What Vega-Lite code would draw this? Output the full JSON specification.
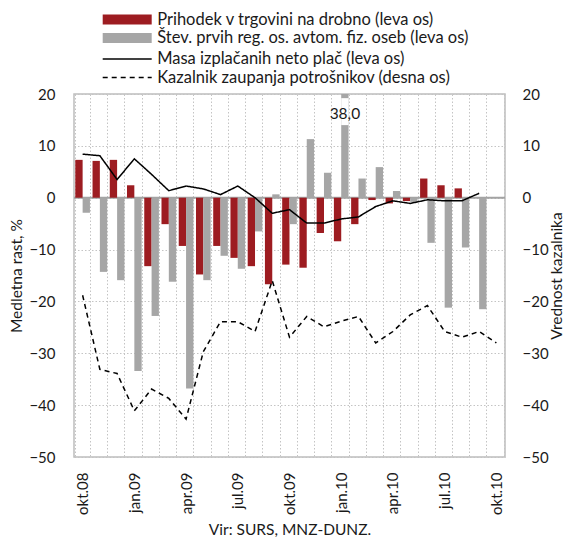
{
  "$schema": "https://vega.github.io/schema/vega-lite/v6.json",
  "width": 431,
  "height": 363,
  "autosize": {"type": "none"},
  "padding": {"left": 74, "top": 94, "right": 62, "bottom": 82},
  "config": {
    "font": "Lato",
    "view": {"stroke": "#bdbdbd", "strokeWidth": 1.5},
    "axis": {
      "labelFont": "Lato", "labelFontSize": 15, "labelColor": "#1a1a1a",
      "titleFont": "Lato", "titleFontSize": 15.5, "titleFontWeight": "normal", "titleColor": "#1a1a1a",
      "domain": false, "ticks": false,
      "gridColor": "#c4c4c4", "gridDash": [1.5, 2], "gridWidth": 1
    },
    "axisX": {
      "labelAngle": -90,
      "labelExpr": "test(/^(okt|jan|apr|jul)\\./, datum.label) ? datum.label : ''",
      "tickBand": "extent",
      "grid": true,
      "labelPadding": 15,
      "titlePadding": 8
    },
    "legend": {"labelFont": "Lato", "labelFontSize": 16.5, "labelColor": "#1a1a1a", "padding": 0, "labelLimit": 400}
  },
  "datasets": {
    "bars": [
      {"m": "okt.08", "s": "Prihodek v trgovini na drobno (leva os)", "v": 7.3},
      {"m": "nov.08", "s": "Prihodek v trgovini na drobno (leva os)", "v": 7.1},
      {"m": "dec.08", "s": "Prihodek v trgovini na drobno (leva os)", "v": 7.3},
      {"m": "jan.09", "s": "Prihodek v trgovini na drobno (leva os)", "v": 2.4},
      {"m": "feb.09", "s": "Prihodek v trgovini na drobno (leva os)", "v": -13.2},
      {"m": "mar.09", "s": "Prihodek v trgovini na drobno (leva os)", "v": -5.1},
      {"m": "apr.09", "s": "Prihodek v trgovini na drobno (leva os)", "v": -9.3},
      {"m": "maj.09", "s": "Prihodek v trgovini na drobno (leva os)", "v": -14.8},
      {"m": "jun.09", "s": "Prihodek v trgovini na drobno (leva os)", "v": -9.3},
      {"m": "jul.09", "s": "Prihodek v trgovini na drobno (leva os)", "v": -11.6},
      {"m": "avg.09", "s": "Prihodek v trgovini na drobno (leva os)", "v": -13.2},
      {"m": "sep.09", "s": "Prihodek v trgovini na drobno (leva os)", "v": -16.7},
      {"m": "okt.09", "s": "Prihodek v trgovini na drobno (leva os)", "v": -12.9},
      {"m": "nov.09", "s": "Prihodek v trgovini na drobno (leva os)", "v": -13.5},
      {"m": "dec.09", "s": "Prihodek v trgovini na drobno (leva os)", "v": -6.8},
      {"m": "jan.10", "s": "Prihodek v trgovini na drobno (leva os)", "v": -8.4},
      {"m": "feb.10", "s": "Prihodek v trgovini na drobno (leva os)", "v": -5.1},
      {"m": "mar.10", "s": "Prihodek v trgovini na drobno (leva os)", "v": -0.45},
      {"m": "apr.10", "s": "Prihodek v trgovini na drobno (leva os)", "v": -1.1},
      {"m": "maj.10", "s": "Prihodek v trgovini na drobno (leva os)", "v": -0.65},
      {"m": "jun.10", "s": "Prihodek v trgovini na drobno (leva os)", "v": 3.7},
      {"m": "jul.10", "s": "Prihodek v trgovini na drobno (leva os)", "v": 2.4},
      {"m": "avg.10", "s": "Prihodek v trgovini na drobno (leva os)", "v": 1.8},
      {"m": "okt.08", "s": "Štev. prvih reg. os. avtom. fiz. oseb (leva os)", "v": -2.9},
      {"m": "nov.08", "s": "Štev. prvih reg. os. avtom. fiz. oseb (leva os)", "v": -14.3},
      {"m": "dec.08", "s": "Štev. prvih reg. os. avtom. fiz. oseb (leva os)", "v": -15.9},
      {"m": "jan.09", "s": "Štev. prvih reg. os. avtom. fiz. oseb (leva os)", "v": -33.4},
      {"m": "feb.09", "s": "Štev. prvih reg. os. avtom. fiz. oseb (leva os)", "v": -22.8},
      {"m": "mar.09", "s": "Štev. prvih reg. os. avtom. fiz. oseb (leva os)", "v": -16.2},
      {"m": "apr.09", "s": "Štev. prvih reg. os. avtom. fiz. oseb (leva os)", "v": -36.8},
      {"m": "maj.09", "s": "Štev. prvih reg. os. avtom. fiz. oseb (leva os)", "v": -15.9},
      {"m": "jun.09", "s": "Štev. prvih reg. os. avtom. fiz. oseb (leva os)", "v": -11.2},
      {"m": "jul.09", "s": "Štev. prvih reg. os. avtom. fiz. oseb (leva os)", "v": -13.7},
      {"m": "avg.09", "s": "Štev. prvih reg. os. avtom. fiz. oseb (leva os)", "v": -6.5},
      {"m": "sep.09", "s": "Štev. prvih reg. os. avtom. fiz. oseb (leva os)", "v": 0.65},
      {"m": "okt.09", "s": "Štev. prvih reg. os. avtom. fiz. oseb (leva os)", "v": -5.1},
      {"m": "nov.09", "s": "Štev. prvih reg. os. avtom. fiz. oseb (leva os)", "v": 11.3},
      {"m": "dec.09", "s": "Štev. prvih reg. os. avtom. fiz. oseb (leva os)", "v": 4.8},
      {"m": "jan.10", "s": "Štev. prvih reg. os. avtom. fiz. oseb (leva os)", "v": 38.0},
      {"m": "feb.10", "s": "Štev. prvih reg. os. avtom. fiz. oseb (leva os)", "v": 3.7},
      {"m": "mar.10", "s": "Štev. prvih reg. os. avtom. fiz. oseb (leva os)", "v": 5.9},
      {"m": "apr.10", "s": "Štev. prvih reg. os. avtom. fiz. oseb (leva os)", "v": 1.3},
      {"m": "maj.10", "s": "Štev. prvih reg. os. avtom. fiz. oseb (leva os)", "v": -0.8},
      {"m": "jun.10", "s": "Štev. prvih reg. os. avtom. fiz. oseb (leva os)", "v": -8.7},
      {"m": "jul.10", "s": "Štev. prvih reg. os. avtom. fiz. oseb (leva os)", "v": -21.2},
      {"m": "avg.10", "s": "Štev. prvih reg. os. avtom. fiz. oseb (leva os)", "v": -9.6},
      {"m": "sep.10", "s": "Štev. prvih reg. os. avtom. fiz. oseb (leva os)", "v": -21.5}
    ],
    "masa": [
      {"m": "okt.08", "s": "Masa izplačanih neto plač (leva os)", "v": 8.4},
      {"m": "nov.08", "s": "Masa izplačanih neto plač (leva os)", "v": 8.1},
      {"m": "dec.08", "s": "Masa izplačanih neto plač (leva os)", "v": 3.5},
      {"m": "jan.09", "s": "Masa izplačanih neto plač (leva os)", "v": 7.5},
      {"m": "feb.09", "s": "Masa izplačanih neto plač (leva os)", "v": 4.5},
      {"m": "mar.09", "s": "Masa izplačanih neto plač (leva os)", "v": 1.35},
      {"m": "apr.09", "s": "Masa izplačanih neto plač (leva os)", "v": 2.25},
      {"m": "maj.09", "s": "Masa izplačanih neto plač (leva os)", "v": 1.7},
      {"m": "jun.09", "s": "Masa izplačanih neto plač (leva os)", "v": 0.6},
      {"m": "jul.09", "s": "Masa izplačanih neto plač (leva os)", "v": 2.25},
      {"m": "avg.09", "s": "Masa izplačanih neto plač (leva os)", "v": 0.0},
      {"m": "sep.09", "s": "Masa izplačanih neto plač (leva os)", "v": -3.0},
      {"m": "okt.09", "s": "Masa izplačanih neto plač (leva os)", "v": -2.3},
      {"m": "nov.09", "s": "Masa izplačanih neto plač (leva os)", "v": -4.9},
      {"m": "dec.09", "s": "Masa izplačanih neto plač (leva os)", "v": -4.9},
      {"m": "jan.10", "s": "Masa izplačanih neto plač (leva os)", "v": -4.1},
      {"m": "feb.10", "s": "Masa izplačanih neto plač (leva os)", "v": -3.7},
      {"m": "mar.10", "s": "Masa izplačanih neto plač (leva os)", "v": -1.7},
      {"m": "apr.10", "s": "Masa izplačanih neto plač (leva os)", "v": -0.6},
      {"m": "maj.10", "s": "Masa izplačanih neto plač (leva os)", "v": -1.1},
      {"m": "jun.10", "s": "Masa izplačanih neto plač (leva os)", "v": -0.4},
      {"m": "jul.10", "s": "Masa izplačanih neto plač (leva os)", "v": -0.6},
      {"m": "avg.10", "s": "Masa izplačanih neto plač (leva os)", "v": -0.6},
      {"m": "sep.10", "s": "Masa izplačanih neto plač (leva os)", "v": 0.85}
    ],
    "kaz": [
      {"m": "okt.08", "s": "Kazalnik zaupanja potrošnikov (desna os)", "v": -18.8},
      {"m": "nov.08", "s": "Kazalnik zaupanja potrošnikov (desna os)", "v": -33.1},
      {"m": "dec.08", "s": "Kazalnik zaupanja potrošnikov (desna os)", "v": -33.9},
      {"m": "jan.09", "s": "Kazalnik zaupanja potrošnikov (desna os)", "v": -41.1},
      {"m": "feb.09", "s": "Kazalnik zaupanja potrošnikov (desna os)", "v": -36.9},
      {"m": "mar.09", "s": "Kazalnik zaupanja potrošnikov (desna os)", "v": -38.7},
      {"m": "apr.09", "s": "Kazalnik zaupanja potrošnikov (desna os)", "v": -42.7},
      {"m": "maj.09", "s": "Kazalnik zaupanja potrošnikov (desna os)", "v": -29.7},
      {"m": "jun.09", "s": "Kazalnik zaupanja potrošnikov (desna os)", "v": -23.9},
      {"m": "jul.09", "s": "Kazalnik zaupanja potrošnikov (desna os)", "v": -23.9},
      {"m": "avg.09", "s": "Kazalnik zaupanja potrošnikov (desna os)", "v": -25.8},
      {"m": "sep.09", "s": "Kazalnik zaupanja potrošnikov (desna os)", "v": -16.0},
      {"m": "okt.09", "s": "Kazalnik zaupanja potrošnikov (desna os)", "v": -26.9},
      {"m": "nov.09", "s": "Kazalnik zaupanja potrošnikov (desna os)", "v": -22.9},
      {"m": "dec.09", "s": "Kazalnik zaupanja potrošnikov (desna os)", "v": -24.9},
      {"m": "jan.10", "s": "Kazalnik zaupanja potrošnikov (desna os)", "v": -23.8},
      {"m": "feb.10", "s": "Kazalnik zaupanja potrošnikov (desna os)", "v": -22.9},
      {"m": "mar.10", "s": "Kazalnik zaupanja potrošnikov (desna os)", "v": -28.0},
      {"m": "apr.10", "s": "Kazalnik zaupanja potrošnikov (desna os)", "v": -25.8},
      {"m": "maj.10", "s": "Kazalnik zaupanja potrošnikov (desna os)", "v": -22.6},
      {"m": "jun.10", "s": "Kazalnik zaupanja potrošnikov (desna os)", "v": -20.8},
      {"m": "jul.10", "s": "Kazalnik zaupanja potrošnikov (desna os)", "v": -25.8},
      {"m": "avg.10", "s": "Kazalnik zaupanja potrošnikov (desna os)", "v": -26.9},
      {"m": "sep.10", "s": "Kazalnik zaupanja potrošnikov (desna os)", "v": -25.8},
      {"m": "okt.10", "s": "Kazalnik zaupanja potrošnikov (desna os)", "v": -28.0}
    ],
    "note": [
      {"m": "jan.10", "s": "Štev. prvih reg. os. avtom. fiz. oseb (leva os)", "t": "38,0"}
    ]
  },
  "resolve": {"axis": {"y": "independent"}},
  "layer": [
    {
      "data": {"name": "note"},
      "mark": {"type": "rule", "color": "#a3a3a3", "strokeWidth": 2},
      "encoding": {
        "y": {"datum": 0, "type": "quantitative", "scale": {"domain": [-50, 20], "nice": false, "zero": false}, "axis": null}
      }
    },
    {
      "data": {"name": "bars"},
      "mark": {"type": "bar", "clip": true},
      "encoding": {
        "x": {
          "field": "m", "type": "ordinal",
          "scale": {"domain": ["okt.08","nov.08","dec.08","jan.09","feb.09","mar.09","apr.09","maj.09","jun.09","jul.09","avg.09","sep.09","okt.09","nov.09","dec.09","jan.10","feb.10","mar.10","apr.10","maj.10","jun.10","jul.10","avg.10","sep.10","okt.10"], "paddingInner": 0.15, "paddingOuter": 0.075},
          "title": "Vir: SURS, MNZ-DUNZ."
        },
        "xOffset": {"field": "s", "type": "nominal", "scale": {"domain": ["Prihodek v trgovini na drobno (leva os)", "Štev. prvih reg. os. avtom. fiz. oseb (leva os)"], "paddingInner": 0, "paddingOuter": 0}},
        "y": {
          "field": "v", "type": "quantitative",
          "scale": {"domain": [-50, 20], "nice": false, "zero": false},
          "axis": {"title": "Medletna rast, %", "values": [-50, -40, -30, -20, -10, 0, 10, 20], "grid": true, "labelPadding": 19, "titlePadding": 4}
        },
        "color": {
          "field": "s", "type": "nominal",
          "scale": {"domain": ["Prihodek v trgovini na drobno (leva os)", "Štev. prvih reg. os. avtom. fiz. oseb (leva os)"], "range": ["#9d1c21", "#a6a6a6"]},
          "legend": {
            "orient": "none", "legendX": 44.95, "legendY": -82.75, "title": null,
            "symbolType": "M-4.9,-1H4.9V1H-4.9Z", "symbolSize": 100, "symbolStrokeWidth": 0,
            "labelOffset": 21.75, "rowPadding": 1.5
          }
        }
      }
    },
    {
      "data": {"name": "note"},
      "mark": {"type": "bar", "color": "white"},
      "encoding": {
        "x": {"field": "m", "type": "ordinal", "title": "Vir: SURS, MNZ-DUNZ."},
        "xOffset": {"field": "s", "type": "nominal"},
        "y": {"datum": 14.0, "type": "quantitative", "axis": null},
        "y2": {"datum": 19.2}
      }
    },
    {
      "data": {"name": "note"},
      "mark": {"type": "text", "fontSize": 15.5, "color": "#1a1a1a", "font": "Lato"},
      "encoding": {
        "x": {"field": "m", "type": "ordinal", "title": "Vir: SURS, MNZ-DUNZ."},
        "xOffset": {"field": "s", "type": "nominal"},
        "y": {"datum": 16.1, "type": "quantitative", "axis": null},
        "text": {"field": "t"}
      }
    },
    {
      "data": {"name": "masa"},
      "mark": {"type": "line", "color": "black", "strokeWidth": 1.5},
      "encoding": {
        "x": {"field": "m", "type": "ordinal", "title": "Vir: SURS, MNZ-DUNZ."},
        "y": {"field": "v", "type": "quantitative", "axis": null},
        "strokeDash": {
          "field": "s", "type": "nominal",
          "scale": {"domain": ["Masa izplačanih neto plač (leva os)", "Kazalnik zaupanja potrošnikov (desna os)"], "range": [[1, 0], [5, 4]]},
          "legend": {
            "orient": "none", "legendX": 44.95, "legendY": -43.25, "title": null,
            "symbolType": "M-4.9,0H4.9", "symbolSize": 100, "symbolStrokeColor": "black", "symbolStrokeWidth": 1.5, "symbolFillColor": "transparent",
            "labelOffset": 21.75, "rowPadding": 1.5
          }
        }
      }
    },
    {
      "data": {"name": "kaz"},
      "mark": {"type": "line", "color": "black", "strokeWidth": 1.5},
      "encoding": {
        "x": {"field": "m", "type": "ordinal", "title": "Vir: SURS, MNZ-DUNZ."},
        "y": {
          "field": "v", "type": "quantitative",
          "axis": {"orient": "right", "title": "Vrednost kazalnika", "values": [-50, -40, -30, -20, -10, 0, 10, 20], "grid": false, "labelPadding": 17, "titlePadding": 16, "titleAngle": -90}
        },
        "strokeDash": {"field": "s", "type": "nominal"}
      }
    }
  ]
}
